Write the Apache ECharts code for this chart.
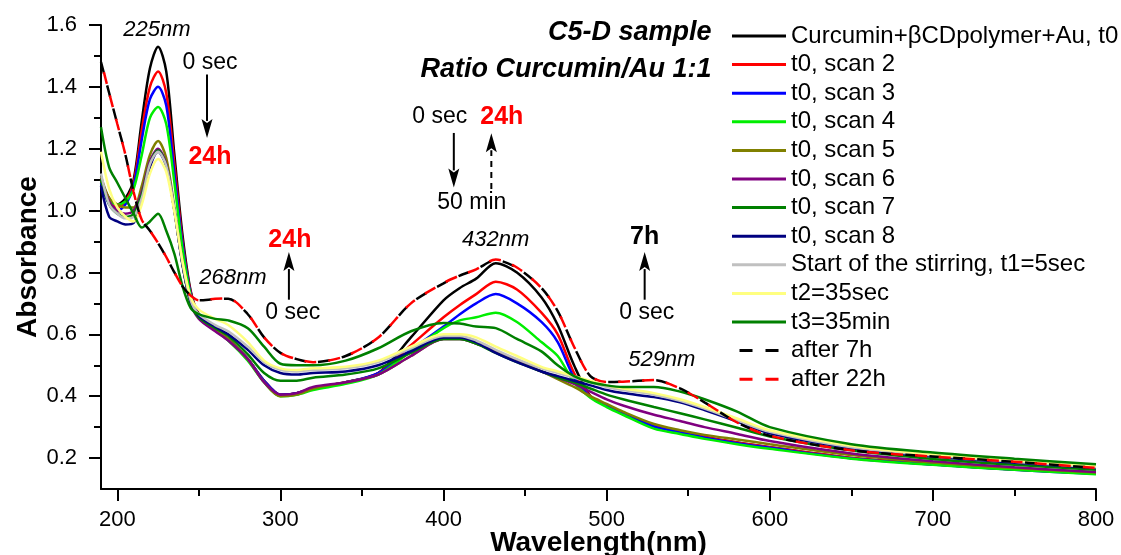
<!DOCTYPE html>
<html><head><meta charset="utf-8">
<script src="https://cdn.jsdelivr.net/npm/echarts@6/dist/echarts.min.js"></script>
<style>html,body{margin:0;padding:0;background:#fff}#c{width:1121px;height:555px}</style>
</head><body><div id="c"></div>
<script>
// Wavelength grid (nm)
const wavelengths = [190,195,200,205,210,215,220,225,230,235,240,245,250,260,268,280,290,300,310,320,340,360,380,400,410,420,432,445,460,470,480,490,500,510,529,545,560,580,600,650,700,750,800];

const seriesNames = ['Curcumin+\u03b2CDpolymer+Au, t0','t0, scan 2','t0, scan 3','t0, scan 4','t0, scan 5','t0, scan 6','t0, scan 7','t0, scan 8','Start of the stirring, t1=5sec','t2=35sec','t3=35min','after 7h','after 22h'];

const t0Scan1 = [1.10,1.04,1.02,1.04,1.10, 1.29,1.46,1.53,1.45,1.18, 0.92,0.74,0.665,0.62,0.585, 0.52,0.45,0.405,0.41,0.425, 0.445,0.475,0.59,0.71,0.75, 0.78,0.83,0.80,0.72,0.63, 0.50,0.40,0.37,0.345,0.305, 0.285,0.268,0.25,0.235,0.20, 0.18,0.163,0.15];
const t0Scan2 = [1.10,1.03,1.01,1.03,1.09, 1.26,1.40,1.45,1.38,1.15, 0.90,0.735,0.662,0.618,0.583, 0.52,0.45,0.405,0.41,0.425, 0.445,0.475,0.565,0.655,0.695, 0.73,0.77,0.745,0.67,0.60, 0.475,0.40,0.37,0.345,0.305, 0.285,0.268,0.25,0.235,0.20, 0.18,0.163,0.15];
const t0Scan3 = [1.09,1.02,1.00,1.02,1.08, 1.23,1.36,1.40,1.34,1.12, 0.89,0.73,0.66,0.617,0.582, 0.52,0.45,0.405,0.41,0.425, 0.445,0.475,0.55,0.625,0.665, 0.70,0.73,0.70,0.64,0.575, 0.46,0.398,0.368,0.343,0.302, 0.283,0.266,0.248,0.233,0.199, 0.179,0.162,0.149];
const t0Scan4 = [1.10,1.035,1.02,1.03,1.07, 1.18,1.30,1.335,1.28,1.09, 0.875,0.725,0.655,0.612,0.58, 0.515,0.445,0.40,0.405,0.42, 0.44,0.47,0.545,0.62,0.645, 0.655,0.67,0.64,0.575,0.53, 0.445,0.395,0.365,0.34,0.295, 0.278,0.262,0.245,0.23,0.198, 0.178,0.162,0.148];
const t0Scan5 = [1.11,1.04,1.02,1.01,1.01, 1.08,1.18,1.225,1.17,1.01, 0.835,0.71,0.655,0.615,0.585, 0.52,0.445,0.40,0.405,0.425, 0.445,0.47,0.53,0.585,0.585, 0.57,0.545,0.515,0.48,0.455, 0.43,0.40,0.375,0.35,0.31, 0.29,0.275,0.26,0.245,0.21, 0.186,0.168,0.153];
const t0Scan6 = [1.10,1.03,1.00,0.99,1.00, 1.06,1.16,1.20,1.15,1.00, 0.825,0.70,0.65,0.61,0.58, 0.52,0.445,0.405,0.41,0.43, 0.445,0.47,0.53,0.585,0.585, 0.57,0.545,0.515,0.48,0.46, 0.44,0.415,0.39,0.37,0.34, 0.32,0.30,0.278,0.255,0.215, 0.19,0.17,0.155];
const t0Scan7 = [1.10,1.02,0.99,0.98,0.99, 1.05,1.15,1.195,1.145,1.00, 0.825,0.70,0.655,0.62,0.595, 0.535,0.475,0.45,0.45,0.46, 0.47,0.49,0.54,0.585,0.585, 0.57,0.54,0.51,0.48,0.46, 0.445,0.425,0.405,0.39,0.365, 0.345,0.325,0.298,0.27,0.225, 0.197,0.178,0.162];
const t0Scan8 = [1.08,0.98,0.965,0.955,0.96, 1.03,1.14,1.19,1.145,1.00, 0.825,0.705,0.66,0.625,0.60, 0.55,0.50,0.475,0.47,0.475, 0.48,0.50,0.545,0.59,0.59, 0.575,0.54,0.51,0.48,0.465, 0.45,0.435,0.42,0.41,0.397, 0.38,0.355,0.318,0.28,0.232, 0.205,0.185,0.168];
const stirT1 = [1.12,1.02,0.99,0.975,0.98, 1.04,1.15,1.19,1.145,1.005, 0.83,0.71,0.665,0.63,0.61, 0.56,0.51,0.485,0.48,0.485, 0.49,0.51,0.555,0.595,0.595, 0.58,0.55,0.52,0.49,0.475, 0.46,0.445,0.43,0.42,0.405, 0.385,0.36,0.322,0.285,0.235, 0.208,0.188,0.17];
const stirT2 = [1.19,1.07,1.01,0.98,0.965, 1.02,1.12,1.167,1.125,0.995, 0.835,0.72,0.68,0.65,0.63, 0.575,0.515,0.49,0.485,0.49, 0.495,0.515,0.56,0.60,0.60, 0.59,0.56,0.53,0.495,0.48, 0.465,0.45,0.435,0.425,0.41, 0.39,0.365,0.328,0.29,0.24, 0.212,0.192,0.174];
const stirT3 = [1.27,1.14,1.09,1.04,0.99, 0.945,0.965,0.99,0.935,0.86, 0.755,0.685,0.665,0.65,0.645, 0.62,0.56,0.505,0.50,0.50, 0.515,0.555,0.61,0.637,0.635, 0.625,0.62,0.585,0.545,0.50, 0.465,0.445,0.435,0.43,0.43, 0.415,0.39,0.35,0.30,0.245, 0.218,0.198,0.18];
const after7h = [1.48,1.38,1.28,1.18,1.06, 0.97,0.935,0.895,0.85,0.80, 0.755,0.725,0.71,0.714,0.715, 0.665,0.59,0.54,0.52,0.51, 0.53,0.59,0.70,0.765,0.79, 0.81,0.84,0.815,0.75,0.675, 0.56,0.465,0.446,0.447,0.452, 0.425,0.38,0.315,0.272,0.225, 0.205,0.188,0.168];
const after22h = [1.485,1.38,1.28,1.18,1.06, 0.97,0.935,0.895,0.85,0.80, 0.755,0.725,0.71,0.715,0.716, 0.665,0.59,0.54,0.52,0.51, 0.53,0.59,0.70,0.766,0.79, 0.81,0.842,0.816,0.75,0.675, 0.56,0.465,0.446,0.447,0.452, 0.425,0.38,0.315,0.272,0.225, 0.205,0.188,0.168];

const xMajorTicks = [200,300,400,500,600,700,800];
const xMinorTicks = [250,350,450,550,650,750];
const yMajorTicks = [0.2,0.4,0.6,0.8,1.0,1.2,1.4,1.6];
const yMinorTicks = [0.3,0.5,0.7,0.9,1.1,1.3,1.5];

const allValues = [t0Scan1,t0Scan2,t0Scan3,t0Scan4,t0Scan5,t0Scan6,t0Scan7,t0Scan8,stirT1,stirT2,stirT3,after7h,after22h];
const colors = ['#000000','#ff0000','#0000ff','#00ee00','#808000','#800080','#008000','#000080','#c0c0c0','#ffff80','#008000','#000000','#ff0000'];

const FONT = '"Liberation Sans", Arial, sans-serif';
const chart = echarts.init(document.getElementById('c'), null, {renderer:'canvas'});

const series = allValues.map((vals, i) => {
  const dashed = i >= 11;
  return {
    name: seriesNames[i], type: 'line', xAxisIndex: 0, yAxisIndex: 0,
    data: wavelengths.map((w, j) => [w, vals[j]]),
    symbol: 'none', smooth: 0.3, silent: true, animation: false,
    lineStyle: dashed
      ? {color: colors[i], width: 2.5, type: [12, 12], dashOffset: i === 12 ? 12 : 0}
      : {color: colors[i], width: 2.5},
    itemStyle: {color: colors[i]}
  };
});

const SOLID_ICON = 'rect';
const DASH_ICON = 'path://M0,0h13v3h-13zM26,0h13v3h-13z';
const legendData = seriesNames.map((n, i) => ({name: n, icon: i >= 11 ? DASH_ICON : SOLID_ICON}));

const axisFont = {fontFamily: FONT, fontSize: 22, color: '#000'};

chart.setOption({
  animation: false,
  backgroundColor: '#fff',
  grid: {left: 101, right: 25, top: 25, bottom: 66, containLabel: false, outerBoundsMode: 'none'},
  xAxis: [{
    type: 'value', min: 190, max: 800, position: 'bottom',
    axisLine: {show: true, onZero: false, lineStyle: {color: '#000', width: 2}},
    axisTick: {show: true, customValues: xMajorTicks, length: 12, inside: false, lineStyle: {color: '#000', width: 2}},
    axisLabel: {show: true, customValues: xMajorTicks, margin: 20, ...axisFont},
    splitLine: {show: false},
    name: 'Wavelength(nm)', nameLocation: 'middle', nameGap: 40, nameMoveOverlap: false,
    nameTextStyle: {fontFamily: FONT, fontSize: 28, fontWeight: 'bold', color: '#000'}
  }, {
    type: 'value', min: 190, max: 800, position: 'bottom',
    axisLine: {show: false, onZero: false},
    axisTick: {show: true, customValues: xMinorTicks, length: 7, lineStyle: {color: '#000', width: 2}},
    axisLabel: {show: false}, splitLine: {show: false}
  }],
  yAxis: [{
    type: 'value', min: 0.1, max: 1.6, position: 'left',
    axisLine: {show: true, onZero: false, lineStyle: {color: '#000', width: 2}},
    axisTick: {show: true, customValues: yMajorTicks, length: 12, lineStyle: {color: '#000', width: 2}},
    axisLabel: {show: true, customValues: yMajorTicks, margin: 24, formatter: v => Number(v).toFixed(1), ...axisFont},
    splitLine: {show: false},
    name: 'Absorbance', nameLocation: 'middle', nameGap: 59, nameRotate: 90, nameMoveOverlap: false,
    nameTextStyle: {fontFamily: FONT, fontSize: 28, fontWeight: 'bold', color: '#000'}
  }, {
    type: 'value', min: 0.1, max: 1.6, position: 'left',
    axisLine: {show: false, onZero: false},
    axisTick: {show: true, customValues: yMinorTicks, length: 7, lineStyle: {color: '#000', width: 2}},
    axisLabel: {show: false}, splitLine: {show: false}
  }],
  legend: {
    orient: 'vertical', left: 727, top: 19,
    itemWidth: 54, itemHeight: 3, itemGap: 4.6,
    textStyle: {fontFamily: FONT, fontSize: 24, color: '#000', lineHeight: 23},
    data: legendData, selectedMode: false
  },
  series: series
});

// Text annotations placed in data coordinates
const annotations = [
  {t: '225nm', x: 224.3, y: 1.584, style: 'italic', weight: 'normal', size: 22, color: '#000'},
  {t: '0 sec', x: 256.8, y: 1.478, style: 'normal', weight: 'normal', size: 23, color: '#000'},
  {t: '24h', x: 256.8, y: 1.172, style: 'normal', weight: 'bold', size: 25, color: '#ff0000'},
  {t: '268nm', x: 270.9, y: 0.784, style: 'italic', weight: 'normal', size: 22, color: '#000'},
  {t: '24h', x: 305.8, y: 0.905, style: 'normal', weight: 'bold', size: 25, color: '#ff0000'},
  {t: '0 sec', x: 307.6, y: 0.669, style: 'normal', weight: 'normal', size: 23, color: '#000'},
  {t: '0 sec', x: 397.7, y: 1.303, style: 'normal', weight: 'normal', size: 23, color: '#000'},
  {t: '24h', x: 435.7, y: 1.303, style: 'normal', weight: 'bold', size: 25, color: '#ff0000'},
  {t: '50 min', x: 417.3, y: 1.025, style: 'normal', weight: 'normal', size: 23, color: '#000'},
  {t: '432nm', x: 432.0, y: 0.905, style: 'italic', weight: 'normal', size: 22, color: '#000'},
  {t: '7h', x: 523.3, y: 0.915, style: 'normal', weight: 'bold', size: 25, color: '#000'},
  {t: '0 sec', x: 524.6, y: 0.669, style: 'normal', weight: 'normal', size: 23, color: '#000'},
  {t: '529nm', x: 533.8, y: 0.517, style: 'italic', weight: 'normal', size: 22, color: '#000'}
];
const titleLines = [
  {t: 'C5-D sample', x: 564.3, y: 1.574},
  {t: 'Ratio Curcumin/Au 1:1', x: 564.3, y: 1.455}
];
// arrows: x, from y0 to y1 (head at y1)
const arrows = [
  {x: 255.0, y0: 1.44, y1: 1.235, dashed: false},
  {x: 305.2, y0: 0.712, y1: 0.866, dashed: false},
  {x: 406.3, y0: 1.251, y1: 1.075, dashed: false},
  {x: 429.3, y0: 1.070, y1: 1.250, dashed: true},
  {x: 523.3, y0: 0.712, y1: 0.866, dashed: false}
];

function px(x, y) { return chart.convertToPixel({xAxisIndex: 0, yAxisIndex: 0}, [x, y]); }

const graphics = [];
annotations.forEach(a => {
  const p = px(a.x, a.y);
  graphics.push({type: 'text', x: p[0], y: p[1], silent: true, z: 10,
    style: {text: a.t, fill: a.color, font: `${a.style} ${a.weight} ${a.size}px ${FONT}`, align: 'center', verticalAlign: 'middle'}});
});
titleLines.forEach(a => {
  const p = px(a.x, a.y);
  graphics.push({type: 'text', x: p[0], y: p[1], silent: true, z: 10,
    style: {text: a.t, fill: '#000', font: `italic bold 27px ${FONT}`, align: 'right', verticalAlign: 'middle'}});
});
arrows.forEach(a => {
  const p0 = px(a.x, a.y0), p1 = px(a.x, a.y1);
  const dir = p1[1] > p0[1] ? 1 : -1;
  const headLen = 19, headW = 5.5;
  const baseY = p1[1] - dir * headLen;
  graphics.push({type: 'line', silent: true, z: 10,
    shape: {x1: p0[0], y1: p0[1], x2: p0[0], y2: baseY + dir * 2},
    style: {stroke: '#000', lineWidth: 2, lineDash: a.dashed ? [6, 5] : null}});
  graphics.push({type: 'polygon', silent: true, z: 10,
    shape: {points: [[p1[0], p1[1]], [p1[0] - headW, baseY], [p1[0], baseY + dir * 4], [p1[0] + headW, baseY]]},
    style: {fill: '#000'}});
});
chart.setOption({graphic: graphics});
</script>
</body></html>
